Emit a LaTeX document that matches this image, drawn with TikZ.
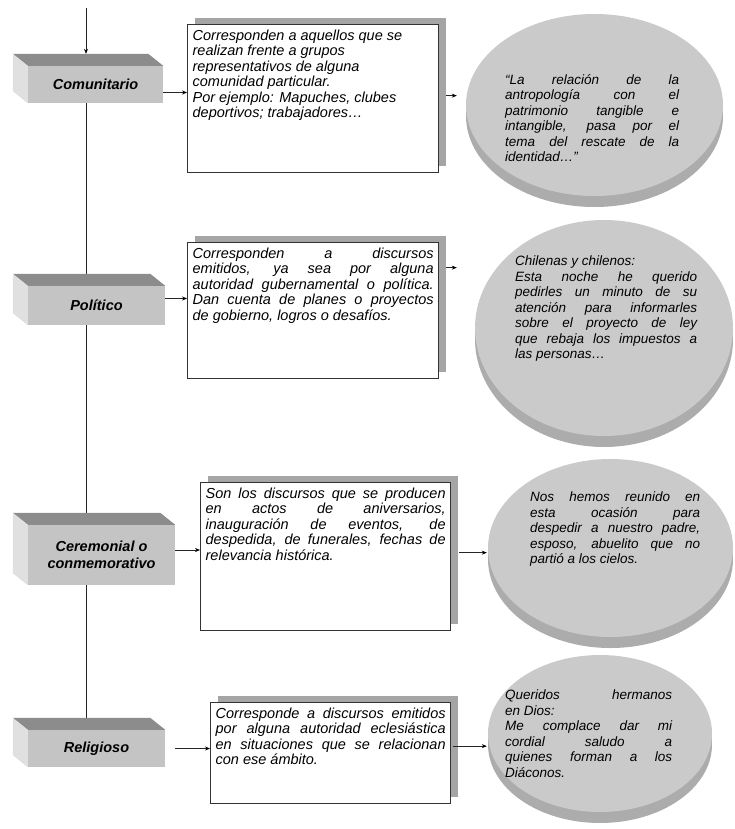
\documentclass[tikz,border=0pt]{standalone}
\usepackage{fontspec}
\setmainfont{Liberation Sans}
\usepackage{tikz}
\definecolor{frontgray}{RGB}{196,196,196}
\definecolor{topgray}{RGB}{140,140,140}
\definecolor{sidegray}{RGB}{224,224,224}
\definecolor{discgray}{RGB}{202,202,202}
\definecolor{rimgray}{RGB}{172,172,172}
\definecolor{hatchgray}{RGB}{165,165,165}
\usetikzlibrary{arrows.meta}
\usetikzlibrary{shapes}
\usetikzlibrary{shadows}
\usetikzlibrary{backgrounds}

\begin{document}
\begin{tikzpicture}[x=1pt, y=-1pt]
        \tikzset{>={Stealth[black, length=5pt, width=4pt]},
                every edge/.style={draw=black!85, line width=0.7pt},
                kind/.style={fill=frontgray, align=center, inner sep=0pt,
                        font=\fontsize{14.5}{17}\selectfont\bfseries\itshape},
                speech/.style={draw=black!80, line width=1.3pt, fill=white, anchor=north west,
                        inner sep=5pt, font=\fontsize{14.5}{15.5}\selectfont\itshape,
                        general shadow={shadow xshift=7pt, shadow yshift=7pt, fill=hatchgray}},
                disc/.style={ellipse, fill=discgray, inner sep=0pt,
                        general shadow={shadow yshift=-11pt, fill=rimgray}},
                sample/.style={anchor=north west, inner sep=0pt,
                        font=\fontsize{13.5}{15.5}\selectfont\itshape}}

        \useasboundingbox (0,0) rectangle (734,829);

        \node[kind, minimum width=135pt, minimum height=37pt] (1) at (95.5,84.5) {Comunitario};
        \node[kind, minimum width=137pt, minimum height=39pt] (2) at (96.5,305.5) {Político};
        \node[kind, minimum width=147pt, minimum height=60pt] (3) at (101.5,555) {Ceremonial o\\conmemorativo};
        \node[kind, minimum width=137pt, minimum height=37pt] (4) at (96.5,748.5) {Religioso};

        % top and side faces of the blocks
        \fill[topgray] (1.north west) -- ++(-15pt,12pt) -- ([shift={(-15pt,12pt)}]1.north east) -- (1.north east) -- cycle;
        \fill[sidegray] (1.north west) -- ++(-15pt,12pt) -- ([shift={(-15pt,12pt)}]1.south west) -- (1.south west) -- cycle;
        \fill[topgray] (2.north west) -- ++(-15pt,12pt) -- ([shift={(-15pt,12pt)}]2.north east) -- (2.north east) -- cycle;
        \fill[sidegray] (2.north west) -- ++(-15pt,12pt) -- ([shift={(-15pt,12pt)}]2.south west) -- (2.south west) -- cycle;
        \fill[topgray] (3.north west) -- ++(-15pt,12pt) -- ([shift={(-15pt,12pt)}]3.north east) -- (3.north east) -- cycle;
        \fill[sidegray] (3.north west) -- ++(-15pt,12pt) -- ([shift={(-15pt,12pt)}]3.south west) -- (3.south west) -- cycle;
        \fill[topgray] (4.north west) -- ++(-15pt,12pt) -- ([shift={(-15pt,12pt)}]4.north east) -- (4.north east) -- cycle;
        \fill[sidegray] (4.north west) -- ++(-15pt,12pt) -- ([shift={(-15pt,12pt)}]4.south west) -- (4.south west) -- cycle;

        \node[speech] (5) at (187,24) {\parbox[t][138pt][t]{241pt}{\raggedright
                Corresponden a aquellos que se\\ realizan frente a grupos\\ representativos de alguna\\
                comunidad particular.\\ Por ejemplo: Mapuches, clubes\\ deportivos; trabajadores…}};
        \node[speech] (6) at (187,242) {\parbox[t][126pt][t]{241pt}{
                Corresponden a discursos\linebreak emitidos, ya sea por alguna\linebreak
                autoridad gubernamental o política.\linebreak Dan cuenta de planes o proyectos\linebreak
                de gobierno, logros o desafíos.}};
        \node[speech] (7) at (200,482) {\parbox[t][138pt][t]{240pt}{
                Son los discursos que se producen\linebreak en actos de aniversarios,\linebreak
                inauguración de eventos, de\linebreak despedida, de funerales, fechas de\linebreak
                relevancia histórica.}};
        \node[speech] (8) at (210,702) {\parbox[t][91pt][t]{230pt}{
                Corresponde a discursos emitidos\linebreak por alguna autoridad eclesiástica\linebreak
                en situaciones que se relacionan\linebreak con ese ámbito.}};

        \node[disc, minimum width=257pt, minimum height=182pt] (9) at (594.5,105) {};
        \node[disc, minimum width=258pt, minimum height=216pt] (10) at (604,328) {};
        \node[disc, minimum width=245pt, minimum height=178pt] (11) at (610.5,548) {};
        \node[disc, minimum width=224pt, minimum height=157pt] (12) at (600,733.5) {};

        \node[sample] (13) at (505,74) {\parbox{174pt}{
                “La relación de la\linebreak antropología con el\linebreak patrimonio tangible e\linebreak
                intangible, pasa por el\linebreak tema del rescate de la\linebreak identidad…”}};
        \node[sample] (14) at (515,256) {\parbox{182pt}{
                Chilenas y chilenos:\\ Esta noche he querido\linebreak pedirles un minuto de su\linebreak
                atención para informarles\linebreak sobre el proyecto de ley\linebreak
                que rebaja los impuestos a\linebreak las personas…}};
        \node[sample] (15) at (530,492) {\parbox{170pt}{
                Nos hemos reunido en\linebreak esta ocasión para\linebreak despedir a nuestro padre,\linebreak
                esposo, abuelito que no\linebreak partió a los cielos.}};
        \node[sample] (16) at (505,690) {\parbox{167pt}{
                Queridos hermanos\linebreak en Dios:\\ Me complace dar mi\linebreak
                cordial saludo a\linebreak quienes forman a los\linebreak Diáconos.}};

        \coordinate (0) at (86,8);
        \path [->] (0) edge ([yshift=12pt]0 |- 1.north);
        \begin{scope}[on background layer]
                \path (1.south -| 0) edge (4.north -| 0);
        \end{scope}

        \path [->] ([yshift=-8pt]1.east) edge ([yshift=-8pt]1.east -| 5.west);
        \path [->] ([yshift=7pt]2.east) edge ([yshift=7pt]2.east -| 6.west);
        \path [->] ([yshift=5pt]3.east) edge ([yshift=5pt]3.east -| 7.west);
        \path [->, shorten <=10pt] (4.east) edge (4.east -| 8.west);

        \path [->, shorten >=9pt] ([xshift=7pt, yshift=3pt]5.east) edge ([yshift=3pt]5.east -| 9.west);
        \path [->, shorten >=18pt] ([xshift=7pt, yshift=43pt]6.east) edge ([yshift=43pt]6.east -| 10.west);
        \path [->, shorten >=1pt] ([xshift=8pt, yshift=4pt]7.east) edge ([yshift=4pt]7.east -| 11.west);
        \path [->, shorten >=1pt] ([xshift=2pt, yshift=7pt]8.east) edge ([yshift=7pt]8.east -| 12.west);

    \end{tikzpicture}
\end{document}
